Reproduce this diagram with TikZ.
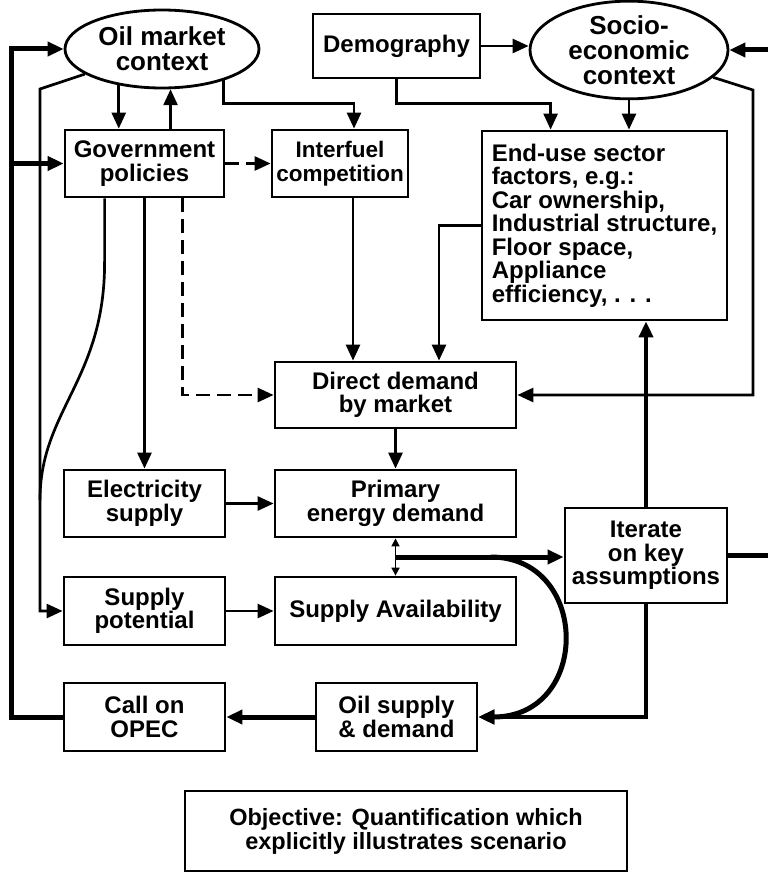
\documentclass[tikz,border=0pt]{standalone}
\usepackage{fontspec}
\setmainfont{Liberation Sans}
\usetikzlibrary{arrows.meta,shapes.geometric,calc}
\begin{document}
\begin{tikzpicture}[x=1pt,y=-1pt,
  every node/.style={font=\bfseries\fontsize{24}{23.5}\selectfont},
  box/.style={draw,line width=2.8pt,align=center,inner sep=0pt},
  oval/.style={draw,ellipse,line width=2.8pt,align=center,inner sep=0pt,font=\bfseries\fontsize{26}{25}\selectfont},
  arrowhd/.style={-{Triangle[length=16pt,width=14pt]}},
  med/.style={line width=2.7pt,arrowhd},
  thk/.style={line width=5pt,arrowhd},
  dsh/.style={dash pattern=on 14pt off 7pt}]
\useasboundingbox (0,0) rectangle (768,875);

% nodes
\node[oval,minimum width=194pt,minimum height=78pt] (oil) at (162,49) {Oil market\\context};
\node[box,minimum width=167pt,minimum height=64pt] (demo) at (396.5,46) {Demography};
\node[oval,minimum width=198pt,minimum height=90pt] (socio) at (629,50) {Socio-\\economic\\context};
\node[box,minimum width=159pt,minimum height=67pt] (gov) at (144.5,163.5) {Government\\policies};
\node[box,minimum width=136pt,minimum height=67pt,font=\bfseries\fontsize{22.5}{23.5}\selectfont] (inter) at (340,163.5) {Interfuel\\competition};
\node[box,minimum width=245pt,minimum height=189pt,align=left] (enduse) at (604.5,225.5) {End-use sector\\factors, e.g.:\\Car ownership,\\Industrial structure,\\Floor space,\\Appliance\\efficiency, . . .};
\node[box,minimum width=241pt,minimum height=66pt] (direct) at (395.5,395) {Direct demand\\by market};
\node[box,minimum width=161pt,minimum height=67pt] (elec) at (144.5,503.5) {Electricity\\supply};
\node[box,minimum width=241pt,minimum height=67pt] (primary) at (395.5,503.5) {Primary\\energy demand};
\node[box,minimum width=162pt,minimum height=95pt] (iter) at (646,555.5) {Iterate\\on key\\assumptions};
\node[box,minimum width=161pt,minimum height=68pt] (suppot) at (144.5,611) {Supply\\potential};
\node[box,minimum width=241pt,minimum height=68pt] (supav) at (395.5,611) {Supply Availability};
\node[box,minimum width=161pt,minimum height=68pt] (opec) at (144.5,717) {Call on\\OPEC};
\node[box,minimum width=161pt,minimum height=68pt] (oilsd) at (396.5,717) {Oil supply\\\& demand};
\node[box,minimum width=442pt,minimum height=80pt,font=\bfseries\fontsize{23.5}{24}\selectfont] (obj) at (406,831) {Objective: Quantification which\\explicitly illustrates scenario};

% coordinates
\coordinate (jg) at (13,163.5);
\coordinate (k40) at (40,89);
\coordinate (gb) at ($(gov.south west)+(41,0)$);
\coordinate (gb2) at ($(gov.south west)+(41,63)$);
\coordinate (cv) at (40,500);
\coordinate (k753) at (753,90);
\coordinate (re) at (768,50);
\coordinate (re2) at (768,555.5);
\coordinate (mid) at ($(primary.south)!0.5!(supav.north)$);
\coordinate (cs) at ($(mid)+(95,0)$);

% left side
\draw[thk] (opec.west) -- ++(-51,0) |- (oil.west);
\draw[thk] (jg) -- (gov.west);
\draw[med] (oil.198) -- (k40) |- (suppot.west);
\draw[line width=2.7pt] (gb) -- (gb2) .. controls (105,380) and (40,410) .. (cv);
\draw[med] (gov.south) -- (elec.north);
\draw[med,dsh] ($(gov.south west)+(119,0)$) |- (direct.west);
\draw[med,dsh] (gov.east) -- (inter.west);

% top
\draw[med] (oil.220) -- (oil.220 |- gov.north);
\draw[med] (oil.282 |- gov.north) -- (oil.282);
\draw[med] (oil.333) |- ($(inter.north)+(14,-25)$) -- ($(inter.north)+(14,0)$);
\draw[med] ($(inter.south)+(13,0)$) -- ($(direct.north)+(-42.5,0)$);
\draw[med] (enduse.west) -| ($(direct.north)+(43.5,0)$);
\draw[med] (demo.south) |- ($(enduse.north west)+(70,-26)$) -- ($(enduse.north west)+(70,0)$);
\draw[med] (demo.east) -- (demo.east -| socio.west);
\draw[med] (socio.south) -- (socio.south |- enduse.north);
\draw[med] (socio.342) -- (k753) |- (direct.east);
\draw[thk] (re) -- (socio.east);

% middle
\draw[med] (direct.south) -- (primary.north);
\draw[med] (elec.east) -- (primary.west);
\draw[med] (suppot.east) -- (supav.west);
\draw[line width=1.6pt,{Triangle[length=8pt,width=8pt]}-{Triangle[length=8pt,width=8pt]}] (primary.south) -- (supav.north);
\draw[thk] (mid) -- (mid -| iter.west);
\draw[thk] (cs) .. controls +(100,0) and +(113,0) .. (oilsd.east);
\draw[line width=4pt,arrowhd] (iter.north) -- (iter.north |- enduse.south);
\draw[line width=5pt] (iter.east) -- (re2);
\draw[line width=4pt,arrowhd] (iter.south) |- (oilsd.east);
\draw[thk] (oilsd.west) -- (opec.east);
\end{tikzpicture}
\end{document}
